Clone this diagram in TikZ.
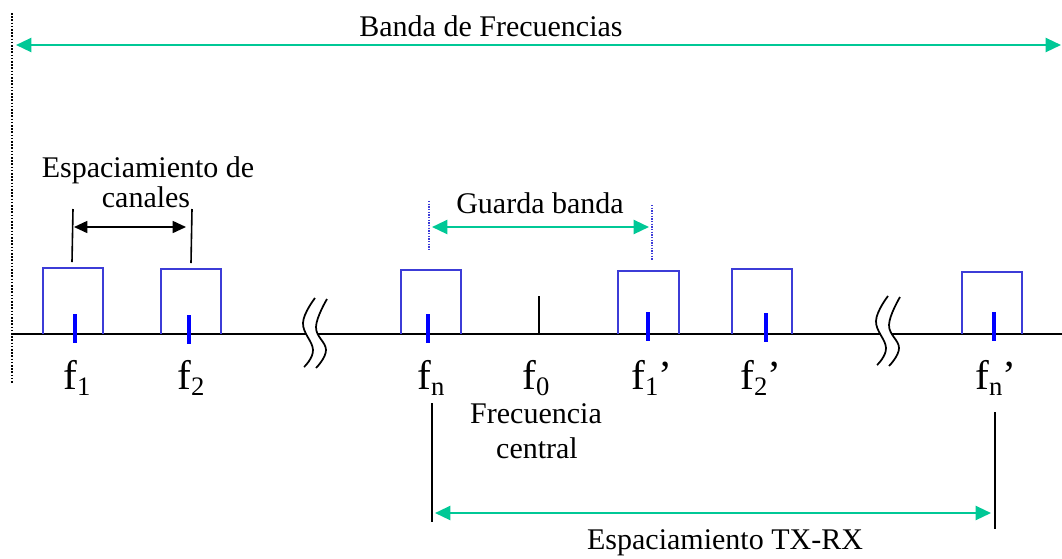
\documentclass[tikz,border=0pt]{standalone}
\usepackage{fontspec}
\setmainfont{Liberation Serif}
\usepackage{graphicx}
\usetikzlibrary{arrows.meta}
\definecolor{tealg}{RGB}{0,200,150}
\definecolor{boxblue}{RGB}{60,60,215}
\definecolor{tickblue}{RGB}{0,0,255}
\newcommand\flbl[2]{{\fontsize{31}{31}\selectfont f}\raisebox{-4.5pt}{\fontsize{20}{20}\selectfont #1}{\fontsize{31}{31}\selectfont #2}}
\begin{document}
\begin{tikzpicture}[x=0.75pt,y=-0.75pt,
  lbl/.style={inner sep=0pt, anchor=base, font=\fontsize{22.5}{27}\selectfont},
  flab/.style={inner sep=0pt, anchor=base west},
  greenarr/.style={draw=tealg, line width=1.7pt, {Triangle[length=11.5pt,width=10.5pt]}-{Triangle[length=11.5pt,width=10.5pt]}},
  blackarr/.style={draw=black, line width=1.2pt, {Triangle[length=10pt,width=9pt]}-{Triangle[length=10pt,width=9pt]}},
  chanbox/.style={draw=boxblue, line width=1.2pt},
  ftick/.style={draw=tickblue, line width=3pt},
  blackline/.style={draw=black, line width=1.2pt},
  guardline/.style={draw=boxblue, line width=0.8pt, dash pattern=on 1pt off 1pt},
  brk/.pic={
    \fill[white] plot[smooth,tension=0.7] coordinates {(0,0) (-12,25) (-2,52) (-11,69)}
      -- plot[smooth,tension=0.7] coordinates {(1,70) (11,52) (1,29) (12,1)} -- cycle;
    \draw[line width=1.3pt] plot[smooth,tension=0.7] coordinates {(0,0) (-12,25) (-2,52) (-11,69)};
    \draw[line width=1.3pt] plot[smooth,tension=0.7] coordinates {(12,1) (1,29) (11,52) (1,70)};
  }
]
\useasboundingbox (0,0) rectangle (1062,558);

% left dotted limit
\coordinate (dTop) at (12,13);
\coordinate (dBot) at (12,383);
\draw[line width=0.8pt, dash pattern=on 1.2pt off 1.2pt] (dTop) -- (dBot);

% band arrow
\coordinate (bL) at (16,45);
\coordinate (bR) at (1061,45);
\draw[greenarr] (bL) -- (bR);
\node[lbl] (banda) at (491,36) {Banda de Frecuencias};

% axis
\coordinate (axL) at (13,334);
\coordinate (axR) at (1062,334);
\draw[line width=1.4pt] (axL) -- (axR);

% channel boxes
\foreach \xa/\xb/\yt in {43/103/268, 161/221/269, 401/461/270, 618/679/271, 732/792/269, 962/1022/272}{
  \draw[chanbox] (\xa,334) -- (\xa,\yt) -- (\xb,\yt) -- (\xb,334);
}

% ticks
\foreach \xt/\ya/\yb in {75/314/343, 189/315/344, 428/314/343, 648/312/341, 766/313/342, 994/312/341}{
  \draw[ftick] (\xt,\ya) -- (\xt,\yb);
}
\draw[line width=2.2pt] (539,296) -- (539,334);

% breaks
\pic at (315,298) {brk};
\pic at (888,296) {brk};

% frequency labels
\node[flab] (f1) at (63,389) {\flbl{1}{}};
\node[flab] (f2) at (177,389) {\flbl{2}{}};
\node[flab] (fn) at (417,389) {\flbl{n}{}};
\node[flab] (f0) at (522,389) {\flbl{0}{}};
\node[flab] (f1p) at (631,389) {\flbl{1}{’}};
\node[flab] (f2p) at (740,389) {\flbl{2}{’}};
\node[flab] (fnp) at (975,389) {\flbl{n}{’}};

% channel spacing
\node[lbl] (esp1) at (148,177) {Espaciamiento de};
\node[lbl] (esp2) at (146,207) {canales};
\coordinate (c1t) at (73,209);
\coordinate (c1b) at (72,262);
\coordinate (c2t) at (192,209);
\coordinate (c2b) at (191,263);
\draw[blackline] (c1t) -- (c1b);
\draw[blackline] (c2t) -- (c2b);
\coordinate (caL) at (74,227);
\coordinate (caR) at (186,227);
\draw[blackarr] (caL) -- (caR);

% guard band
\node[lbl] (guarda) at (540,213) {Guarda banda};
\coordinate (g1t) at (429,201);
\coordinate (g1b) at (429,250);
\coordinate (g2t) at (652,205);
\coordinate (g2b) at (652,260);
\draw[guardline] (g1t) -- (g1b);
\draw[guardline] (g2t) -- (g2b);
\coordinate (gL) at (432,227);
\coordinate (gR) at (649,227);
\draw[greenarr] (gL) -- (gR);

% central frequency
\node[lbl] (fc1) at (536,423) {Frecuencia};
\node[lbl] (fc2) at (537,458) {central};

% TX-RX spacing
\coordinate (t1t) at (432,403);
\coordinate (t1b) at (432,522);
\coordinate (t2t) at (995,412);
\coordinate (t2b) at (995,529);
\draw[blackline] (t1t) -- (t1b);
\draw[blackline] (t2t) -- (t2b);
\coordinate (tL) at (435,513);
\coordinate (tR) at (991,513);
\draw[greenarr] (tL) -- (tR);
\node[lbl] (txrx) at (725,549) {Espaciamiento TX-RX};
\end{tikzpicture}
\end{document}
